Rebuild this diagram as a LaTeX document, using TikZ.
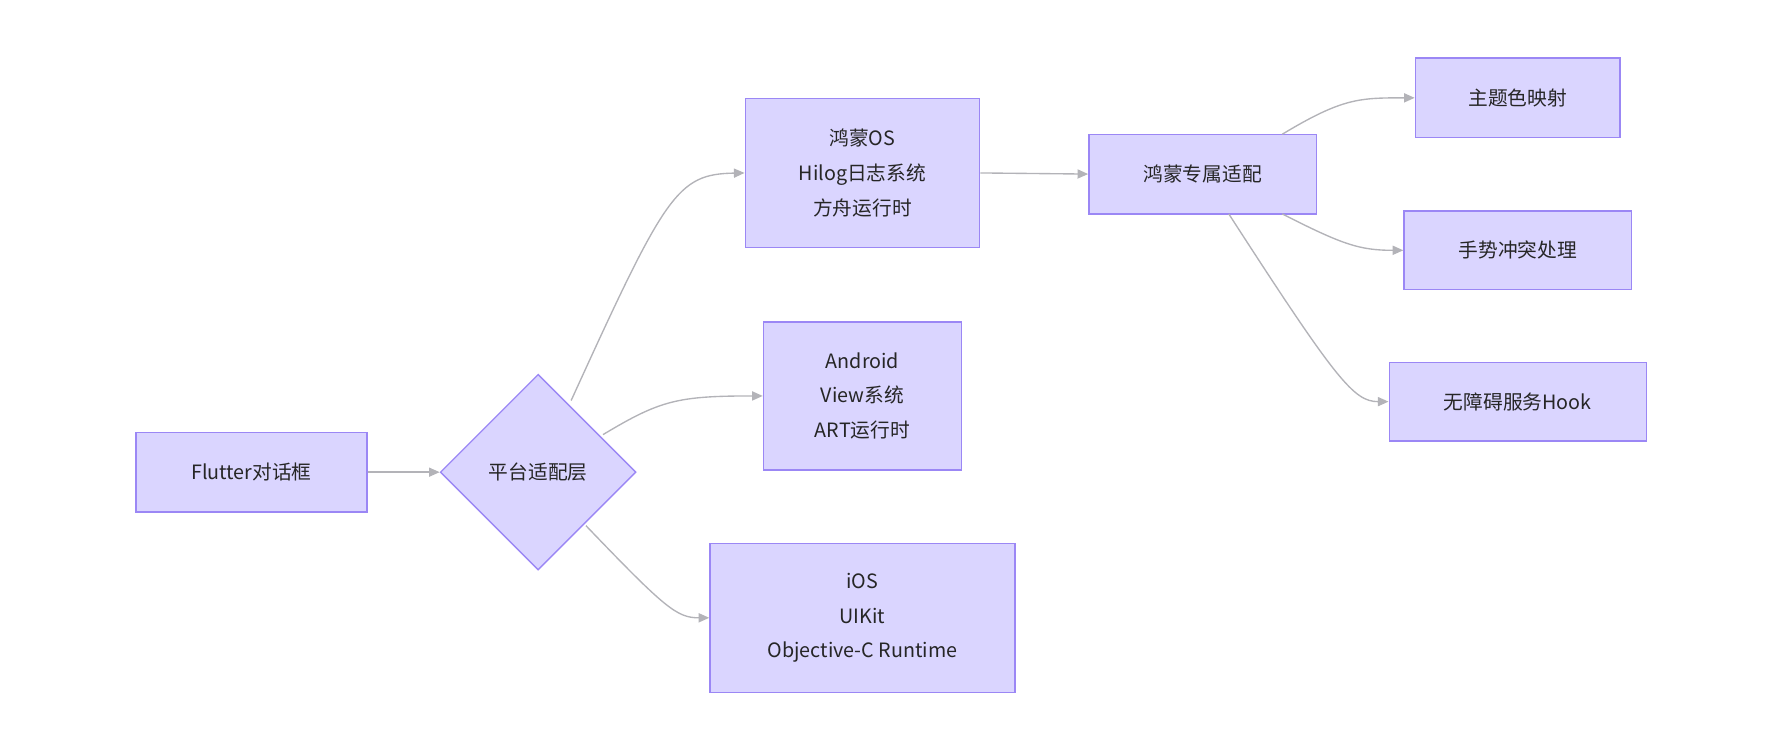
\documentclass[tikz,border=0pt]{standalone}
\usepackage{fontspec}
\setmainfont{Noto Sans CJK SC}
\usetikzlibrary{shapes.geometric,arrows.meta}
\definecolor{nfill}{HTML}{DAD5FF}
\definecolor{nline}{HTML}{9B87F5}
\definecolor{eline}{HTML}{B3B3B8}
\begin{document}
\begin{tikzpicture}[x=0.75pt,y=-0.75pt,
  box/.style={draw=nline,fill=nfill,line width=0.9pt,inner sep=0,align=center,font=\fontsize{13}{23}\selectfont,text=black!85},
  edge/.style={draw=eline,line width=0.9pt,-{Triangle[length=7pt,width=6pt]}}]
\useasboundingbox (0,0) rectangle (1568,661);
\node[box,minimum width=203*0.75pt,minimum height=70*0.75pt] (fl) at (221,415) {Flutter对话框};
\node[box,diamond,minimum width=172*0.75pt,minimum height=172*0.75pt] (pl) at (473,415) {平台适配层};
\node[box,minimum width=206*0.75pt,minimum height=131*0.75pt] (hm) at (758,152) {鸿蒙OS\\Hilog日志系统\\方舟运行时};
\node[box,minimum width=174*0.75pt,minimum height=130*0.75pt] (an) at (758,348) {Android\\View系统\\ART运行时};
\node[box,minimum width=268*0.75pt,minimum height=131*0.75pt] (io) at (758,543) {iOS\\UIKit\\Objective-C Runtime};
\node[box,minimum width=200*0.75pt,minimum height=70*0.75pt] (sp) at (1057,153) {鸿蒙专属适配};
\node[box,minimum width=180*0.75pt,minimum height=70*0.75pt] (t1) at (1334,86) {主题色映射};
\node[box,minimum width=200*0.75pt,minimum height=69*0.75pt] (t2) at (1334,220) {手势冲突处理};
\node[box,minimum width=226*0.75pt,minimum height=69*0.75pt] (t3) at (1334,353) {无障碍服务Hook};
\coordinate (p1) at (502,352);
\coordinate (p2) at (530,382);
\coordinate (p3) at (515,462);
\coordinate (s1) at (1127,118);
\coordinate (s2) at (1127,188);
\coordinate (s3) at (1080,188);
\draw[edge] (fl.east) -- (pl.west);
\draw[edge] (p1) .. controls (585,170) and (595,153) .. (hm.west);
\draw[edge] (p2) .. controls (580,352) and (595,348) .. (an.west);
\draw[edge] (p3) .. controls (585,535) and (595,543) .. (io.west);
\draw[edge] (hm.east) -- (sp.west);
\draw[edge] (s1) .. controls (1180,86) and (1195,86) .. (t1.west);
\draw[edge] (s2) .. controls (1180,215) and (1195,220) .. (t2.west);
\draw[edge] (s3) .. controls (1175,335) and (1190,353) .. (t3.west);
\end{tikzpicture}
\end{document}
